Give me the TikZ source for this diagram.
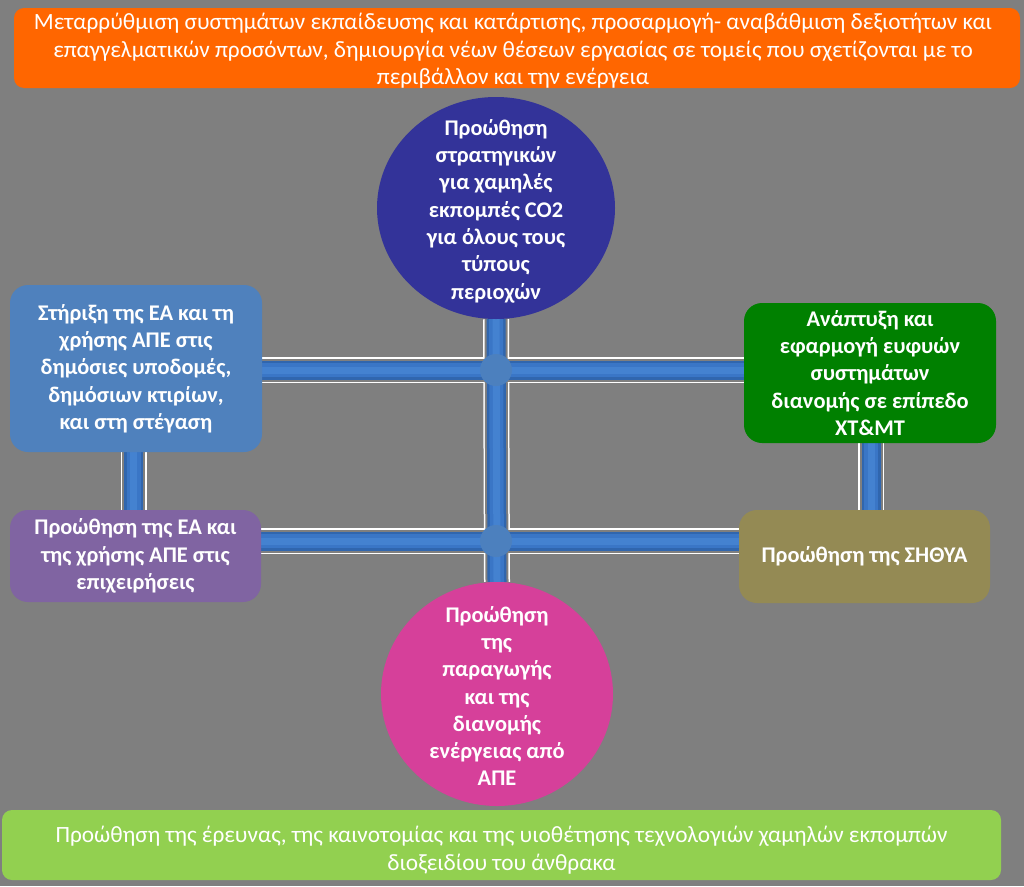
\documentclass[tikz,border=0pt]{standalone}
\usepackage{fontspec}
\setmainfont{Carlito}
\usetikzlibrary{shapes.geometric}
\definecolor{bgray}{RGB}{127,127,127}
\definecolor{corange}{RGB}{255,102,0}
\definecolor{cnavy}{RGB}{51,51,153}
\definecolor{cpink}{RGB}{214,64,154}
\definecolor{cblue}{RGB}{79,129,189}
\definecolor{cpurple}{RGB}{128,100,162}
\definecolor{cgreen}{RGB}{0,128,0}
\definecolor{colive}{RGB}{148,138,84}
\definecolor{clime}{RGB}{146,208,80}
\definecolor{pipedark}{RGB}{48,102,174}
\definecolor{pipemid}{RGB}{58,118,198}
\definecolor{pipelight}{RGB}{68,130,208}
\definecolor{cjunc}{RGB}{76,128,190}
\pgfdeclarelayer{back}
\pgfdeclarelayer{pipes}
\pgfsetlayers{back,pipes,main}
\tikzset{
  boxtext/.style={text=white, align=center, font=\fontsize{22.4}{27.3}\selectfont\bfseries},
  roundbox/.style={rectangle, rounded corners=18pt, inner sep=0pt, boxtext},
  banner/.style={rectangle, rounded corners=10pt, inner sep=0pt},
  bannertext/.style={text=white, align=center, font=\fontsize{23.3}{27.5}\selectfont},
  disc/.style={ellipse, inner sep=0pt},
  pipeouter/.style={draw=white, line width=26pt},
  pipeinner/.style={draw=bgray, line width=23pt},
  pipebase/.style={draw=pipedark, line width=19pt},
  pipebody/.style={draw=pipemid, line width=14pt},
  pipecore/.style={draw=pipelight, line width=7pt},
  junction/.style={fill=cjunc}
}
\begin{document}
\begin{tikzpicture}[x=1pt,y=-1pt]
\useasboundingbox (0,0) rectangle (1024,886);
\begin{pgfonlayer}{back}
\fill[bgray] (0,0) rectangle (1024,886);
\end{pgfonlayer}

% banners
\node[banner, fill=corange, minimum width=1006pt, minimum height=80pt] (head) at (517,48) {};
\node[bannertext] (headtxt) at (513,51)
  {Μεταρρύθμιση συστημάτων εκπαίδευσης και κατάρτισης, προσαρμογή- αναβάθμιση δεξιοτήτων και\\
   επαγγελματικών προσόντων, δημιουργία νέων θέσεων εργασίας σε τομείς που σχετίζονται με το\\
   περιβάλλον και την ενέργεια};
\node[banner, fill=clime, minimum width=999pt, minimum height=70pt] (foot) at (501.5,845) {};
\node[bannertext] (foottxt) at (501.5,850)
  {Προώθηση της έρευνας, της καινοτομίας και της υιοθέτησης τεχνολογιών χαμηλών εκπομπών\\
   διοξειδίου του άνθρακα};

% circles
\node[disc, fill=cnavy, minimum width=238pt, minimum height=222pt] (top) at (496,208) {};
\node[boxtext] (toptxt) at (496,211)
  {Προώθηση\\στρατηγικών\\για χαμηλές\\εκπομπές CO2\\για όλους τους\\τύπους\\περιοχών};
\node[disc, fill=cpink, minimum width=232pt, minimum height=224pt] (pink) at (497,694) {};
\node[boxtext] (pinktxt) at (497,696)
  {Προώθηση\\της\\παραγωγής\\και της\\διανομής\\ενέργειας από\\ΑΠΕ};

% boxes
\node[roundbox, fill=cblue, minimum width=252pt, minimum height=167pt] (bluebox) at (136,368.5)
  {Στήριξη της ΕΑ και τη\\χρήσης ΑΠΕ στις\\δημόσιες υποδομές,\\δημόσιων κτιρίων,\\και στη στέγαση};
\node[roundbox, fill=cpurple, minimum width=251pt, minimum height=92pt] (purple) at (135.5,556)
  {Προώθηση της ΕΑ και\\της χρήσης ΑΠΕ στις\\επιχειρήσεις};
\node[roundbox, fill=cgreen, minimum width=252pt, minimum height=140pt] (green) at (870,373)
  {Ανάπτυξη και\\εφαρμογή ευφυών\\συστημάτων\\διανομής σε επίπεδο\\ΧΤ\&ΜΤ};
\node[roundbox, fill=colive, minimum width=251pt, minimum height=93pt] (olive) at (864.5,556.5)
  {Προώθηση της ΣΗΘΥΑ};

% pipe reference points
\coordinate (j1) at (496,370);
\coordinate (j2) at (496,541);
\coordinate (lp) at (133.5,0);
\coordinate (rp) at (871,0);

\begin{pgfonlayer}{pipes}
% outlines
\begin{scope}[shift={(0,2.5)}]
\draw[pipeouter] (bluebox.east |- j1) -- (green.west |- j1);
\draw[pipeouter] (purple.east |- j2) -- (olive.west |- j2);
\end{scope}
\draw[pipeouter] (top.south) -- (pink.north);
\draw[pipeouter] (bluebox.south -| lp) -- (purple.north -| lp);
\draw[pipeouter] (green.south -| rp) -- (olive.north -| rp);
\begin{scope}[shift={(0,2.5)}]
\draw[pipeinner] (bluebox.east |- j1) -- (green.west |- j1);
\draw[pipeinner] (purple.east |- j2) -- (olive.west |- j2);
\end{scope}
\draw[pipeinner] (top.south) -- (pink.north);
\draw[pipeinner] (bluebox.south -| lp) -- (purple.north -| lp);
\draw[pipeinner] (green.south -| rp) -- (olive.north -| rp);
% pipes
\foreach \s in {pipebase,pipebody,pipecore}{
  \draw[\s] (bluebox.east |- j1) -- (green.west |- j1);
  \draw[\s] (purple.east |- j2) -- (olive.west |- j2);
  \draw[\s] (top.south) -- (pink.north);
  \draw[\s] (bluebox.south -| lp) -- (purple.north -| lp);
  \draw[\s] (green.south -| rp) -- (olive.north -| rp);
}
\fill[junction] (j1) circle (16pt);
\fill[junction] (j2) circle (16pt);
\end{pgfonlayer}
\end{tikzpicture}
\end{document}
